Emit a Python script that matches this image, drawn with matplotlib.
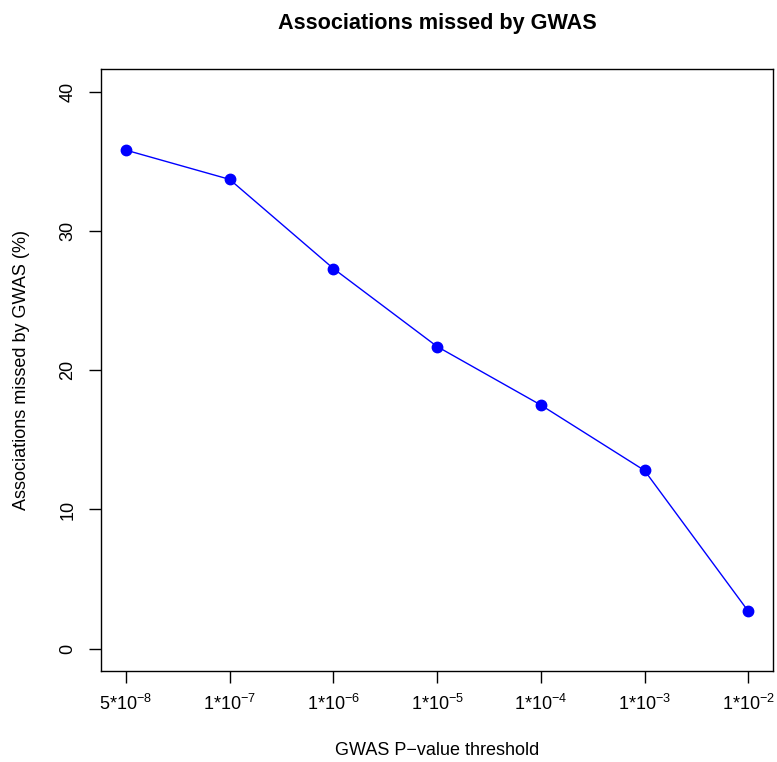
import matplotlib
matplotlib.use('Agg')
import matplotlib.pyplot as plt

plt.rcParams['font.family'] = ['Liberation Sans', 'DejaVu Sans']
plt.rcParams['mathtext.fontset'] = 'custom'
plt.rcParams['mathtext.rm'] = 'Liberation Sans'
plt.rcParams['mathtext.default'] = 'regular'

# data
thresholds = ['5*10$^{-8}$', '1*10$^{-7}$', '1*10$^{-6}$', '1*10$^{-5}$',
              '1*10$^{-4}$', '1*10$^{-3}$', '1*10$^{-2}$']
missed_pct = [35.8, 33.7, 27.3, 21.7, 17.5, 12.8, 2.7]
y_ticks = [0, 10, 20, 30, 40]

x = list(range(1, len(thresholds) + 1))

fig = plt.figure(figsize=(7.77, 7.62), dpi=100)
ax = fig.add_axes([0.130, 0.1194, 0.865, 0.7896])

ax.plot(x, missed_pct, color='blue', linewidth=1, marker='o', markersize=7.5)

ax.set_xlim(0.76, 7.24)
ax.set_ylim(-1.6, 41.6)
ax.set_xticks(x)
ax.set_xticklabels(thresholds)
ax.set_yticks(y_ticks)
ax.set_yticklabels([str(v) for v in y_ticks], rotation=90, va='center')
ax.tick_params(labelsize=13, length=8.6, width=1)
ax.tick_params(axis='x', pad=8)
ax.tick_params(axis='y', pad=9)
for s in ax.spines.values():
    s.set_linewidth(1)

ax.set_title('Associations missed by GWAS', fontsize=15.6, fontweight='bold', pad=29)
ax.set_xlabel('GWAS P\u2212value threshold', fontsize=13, labelpad=20)
ax.set_ylabel('Associations missed by GWAS (%)', fontsize=13, labelpad=21)

fig.savefig('out.png', dpi=100)
